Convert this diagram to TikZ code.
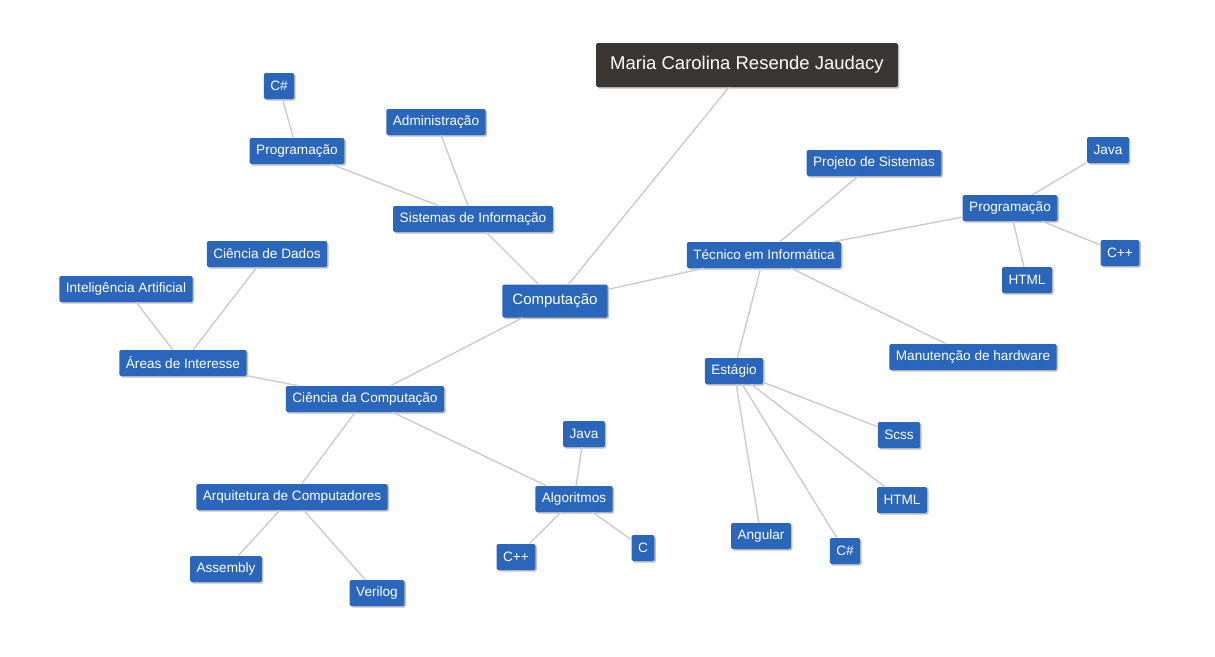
\documentclass[tikz,border=0pt]{standalone}
\usepackage{fontspec}
\setmainfont{Liberation Sans}
\usetikzlibrary{shadows}
\definecolor{topicblue}{HTML}{2A66BC}
\definecolor{rootgray}{HTML}{3A3634}
\definecolor{linkgray}{HTML}{CCCCCC}
\begin{document}
\begin{tikzpicture}[x=1pt, y=-1pt,
	topic/.style={fill=topicblue, text=white, rounded corners=1.5pt, font=\fontsize{13.6}{15}\selectfont,
		minimum height=26pt, inner xsep=6.5pt, inner ysep=0pt,
		drop shadow={shadow xshift=1.5pt, shadow yshift=-1.5pt, opacity=0.25, fill=black}},
	main/.style={topic, font=\fontsize{15}{17}\selectfont, minimum height=33pt, inner xsep=10pt},
	root/.style={topic, fill=rootgray, font=\fontsize{18.5}{21}\selectfont, minimum height=44pt, inner xsep=14pt},
	link/.style={linkgray, line width=1.4pt}]
	\useasboundingbox (0,0) rectangle (1215,656);
	% nodes
	\node[root] (title) at (747,65) {Maria Carolina Resende Jaudacy};
	\node[main] (comp) at (555,301) {Computação};
	\node[topic] (si) at (473,219) {Sistemas de Informação};
	\node[topic] (adm) at (436,122) {Administração};
	\node[topic] (progL) at (297,151) {Programação};
	\node[topic] (csL) at (279,86) {C\#};
	\node[topic] (tec) at (764,255) {Técnico em Informática};
	\node[topic] (proj) at (874,163) {Projeto de Sistemas};
	\node[topic] (progR) at (1010,208) {Programação};
	\node[topic] (javaR) at (1108,150) {Java};
	\node[topic] (cppR) at (1120,253) {C++};
	\node[topic] (htmlR) at (1027,280) {HTML};
	\node[topic] (manut) at (973,357) {Manutenção de hardware};
	\node[topic] (est) at (734,371) {Estágio};
	\node[topic] (scss) at (899,435) {Scss};
	\node[topic] (htmlE) at (902,500) {HTML};
	\node[topic] (ang) at (761,536) {Angular};
	\node[topic] (csE) at (845,551) {C\#};
	\node[topic] (cc) at (365,399) {Ciência da Computação};
	\node[topic] (areas) at (183,363) {Áreas de Interesse};
	\node[topic] (ia) at (126,289) {Inteligência Artificial};
	\node[topic] (cd) at (267,254) {Ciência de Dados};
	\node[topic] (arq) at (292,497) {Arquitetura de Computadores};
	\node[topic] (asm) at (226,569) {Assembly};
	\node[topic] (veri) at (377,593) {Verilog};
	\node[topic] (alg) at (574,499) {Algoritmos};
	\node[topic] (javaA) at (584,434) {Java};
	\node[topic] (cppA) at (516,557) {C++};
	\node[topic] (cA) at (643,548) {C};
	% links
	\draw[link] (title) -- (comp);
	\draw[link] (comp) -- (si);
	\draw[link] (si) -- (adm);
	\draw[link] (si) -- (progL);
	\draw[link] (progL) -- (csL);
	\draw[link] (comp) -- (tec);
	\draw[link] (tec) -- (proj);
	\draw[link] (tec) -- (progR);
	\draw[link] (progR) -- (javaR);
	\draw[link] (progR) -- (cppR);
	\draw[link] (progR) -- (htmlR);
	\draw[link] (tec) -- (manut);
	\draw[link] (tec) -- (est);
	\foreach \t in {scss, htmlE, ang, csE}
		\draw[link] (est) -- (\t);
	\draw[link] (comp) -- (cc);
	\draw[link] (cc) -- (areas);
	\draw[link] (areas) -- (ia);
	\draw[link] (areas) -- (cd);
	\draw[link] (cc) -- (arq);
	\draw[link] (arq) -- (asm);
	\draw[link] (arq) -- (veri);
	\draw[link] (cc) -- (alg);
	\foreach \t in {javaA, cppA, cA}
		\draw[link] (alg) -- (\t);
\end{tikzpicture}
\end{document}
